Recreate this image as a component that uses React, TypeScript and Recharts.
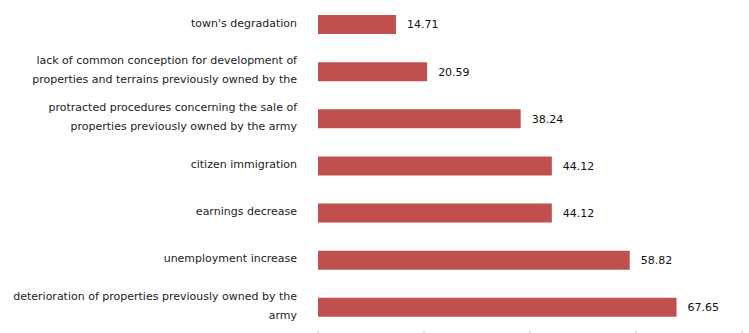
import React from 'react';
import { BarChart, Bar, XAxis, YAxis, LabelList } from 'recharts';

const categories: string[][] = [
  ["town's degradation"],
  ['lack of common conception for development of', 'properties and terrains previously owned by the'],
  ['protracted procedures concerning the sale of', 'properties previously owned by the army'],
  ['citizen immigration'],
  ['earnings decrease'],
  ['unemployment increase'],
  ['deterioration of properties previously owned by the', 'army'],
];
const values = [14.71, 20.59, 38.24, 44.12, 44.12, 58.82, 67.65];
const xTicks = [0, 20, 40, 60, 80];

const data = categories.map((lines, i) => ({ name: lines.join(' '), lines, value: values[i] }));

const FONT = '"DejaVu Sans", sans-serif';

const CategoryTick = (props: any) => {
  const { x, y, payload } = props;
  const row = data.find(d => d.name === payload.value);
  const lines = row ? row.lines : [String(payload.value)];
  const lh = 19;
  const start = -((lines.length - 1) * lh) / 2;
  return (
    <g transform={`translate(${x - 13},${y})`}>
      {lines.map((line, i) => (
        <text key={i} x={0} y={start + i * lh} dy={2} textAnchor="end" fontSize={11} fontFamily={FONT} fill="#222">
          {line}
        </text>
      ))}
    </g>
  );
};

// x-axis labels fall below the visible area, keep only the tick marks
const EmptyTick = () => <g />;

export default function App() {
  return (
    <div style={{ width: 749, height: 333, overflow: 'hidden' }}>
      <style>{'body{margin:0}'}</style>
      <BarChart
        width={749}
        height={360}
        data={data}
        layout="vertical"
        margin={{ top: 1, right: 7, bottom: 0, left: 0 }}
      >
        <XAxis
          type="number"
          domain={[0, 80]}
          ticks={xTicks}
          axisLine={false}
          tickLine={{ stroke: '#bbb' }}
          tickSize={4}
          height={29}
          tick={<EmptyTick />}
        />
        <YAxis
          type="category"
          dataKey="name"
          width={318}
          axisLine={false}
          tickLine={false}
          interval={0}
          tick={<CategoryTick />}
        />
        <Bar dataKey="value" fill="#C0504D" barSize={19} isAnimationActive={false}>
          <LabelList
            dataKey="value"
            position="right"
            offset={11}
            formatter={(v: any) => Number(v).toFixed(2)}
            style={{ fontSize: 11, fill: '#111', fontFamily: FONT }}
          />
        </Bar>
      </BarChart>
    </div>
  );
}
